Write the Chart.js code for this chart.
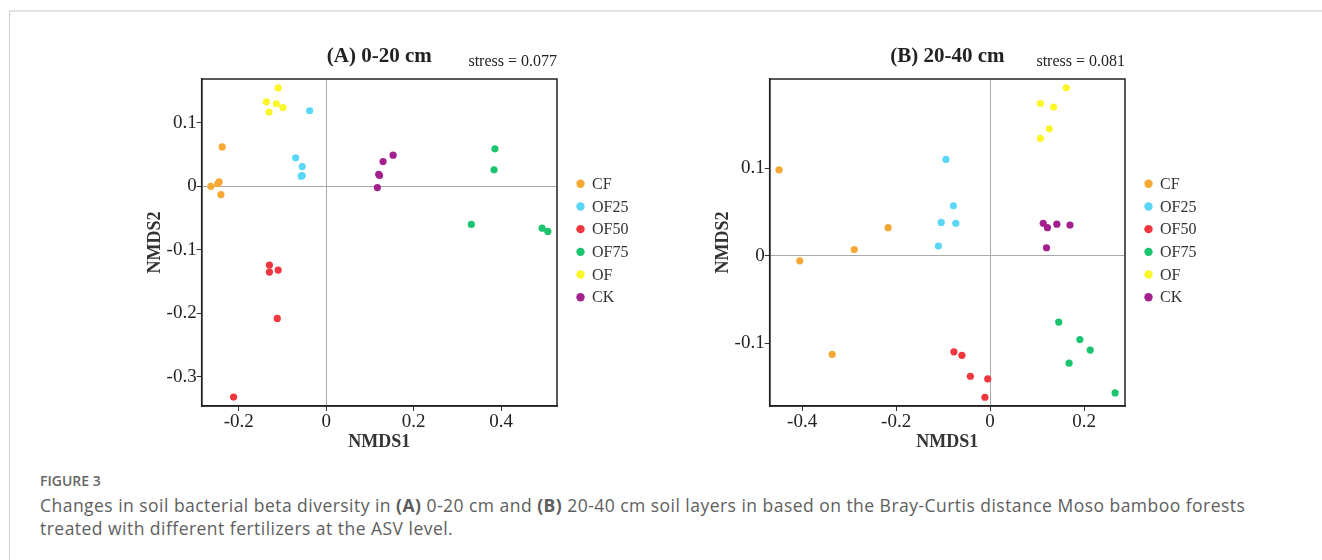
<!DOCTYPE html>
<html>
<head>
<meta charset="utf-8">
<script src="https://cdn.jsdelivr.net/npm/chart.js@4.4.0/dist/chart.umd.min.js"></script>
<style>
  body { margin: 0; background: #fff; width: 1322px; height: 560px; overflow: hidden; position: relative; }
  #frame { position: absolute; left: 9px; top: 10px; right: 0; bottom: 0; border-top: 2px solid #e3e3e3; border-left: 1px solid #cfcfcf; }
  .panel { position: absolute; top: 30px; width: 560px; height: 430px; }
  #pa { left: 125px; }
  #pb { left: 693px; }
  .fig { position: absolute; left: 40px; top: 471px; font-family: "Open Sans", sans-serif; font-size: 14px; font-weight: 600; color: #666; }
  .cap { position: absolute; left: 40px; top: 494px; font-family: "Open Sans", sans-serif; font-size: 17.5px; letter-spacing: 0.47px; line-height: 23px; color: #5e5e5e; }
</style>
</head>
<body>
<div id="frame"></div>
<div class="panel" id="pa"><canvas id="chartA"></canvas></div>
<div class="panel" id="pb"><canvas id="chartB"></canvas></div>
<div class="fig">FIGURE 3</div>
<div class="cap">Changes in soil bacterial beta diversity in <b>(A)</b> 0-20 cm and <b>(B)</b> 20-40 cm soil layers in based on the Bray-Curtis distance Moso bamboo forests<br>treated with different fertilizers at the ASV level.</div>

<script>
const SERIF = '"Liberation Serif", "Times New Roman", serif';

const groups = ['CF', 'OF25', 'OF50', 'OF75', 'OF', 'CK'];
const colors = ['#F5A834', '#5AD7F7', '#F0363F', '#1DC470', '#FBF62A', '#A3208F'];

// (A) 0-20 cm  [NMDS1, NMDS2]
const cfA   = [[-0.238, 0.062], [-0.264, 0.000], [-0.245, 0.007], [-0.248, 0.004], [-0.241, -0.013]];
const of25A = [[-0.038, 0.119], [-0.070, 0.045], [-0.055, 0.031], [-0.057, 0.016], [-0.055, 0.017]];
const of50A = [[-0.130, -0.124], [-0.130, -0.135], [-0.110, -0.132], [-0.112, -0.208], [-0.212, -0.332]];
const of75A = [[0.386, 0.059], [0.384, 0.026], [0.332, -0.060], [0.494, -0.066], [0.507, -0.071]];
const ofA   = [[-0.110, 0.155], [-0.137, 0.133], [-0.114, 0.130], [-0.099, 0.124], [-0.131, 0.117]];
const ckA   = [[0.153, 0.049], [0.130, 0.039], [0.120, 0.019], [0.122, 0.017], [0.117, -0.002]];

// (B) 20-40 cm
const cfB   = [[-0.449, 0.098], [-0.217, 0.032], [-0.289, 0.007], [-0.405, -0.006], [-0.336, -0.113]];
const of25B = [[-0.094, 0.110], [-0.078, 0.057], [-0.104, 0.038], [-0.073, 0.037], [-0.110, 0.011]];
const of50B = [[-0.077, -0.110], [-0.060, -0.114], [-0.042, -0.138], [-0.005, -0.141], [-0.011, -0.162]];
const of75B = [[0.146, -0.076], [0.191, -0.096], [0.213, -0.108], [0.168, -0.123], [0.266, -0.157]];
const ofB   = [[0.162, 0.192], [0.107, 0.174], [0.135, 0.170], [0.126, 0.145], [0.107, 0.134]];
const ckB   = [[0.113, 0.037], [0.122, 0.032], [0.142, 0.036], [0.170, 0.035], [0.120, 0.009]];

const xTicksA = [-0.2, 0, 0.2, 0.4];
const yTicksA = [0.1, 0, -0.1, -0.2, -0.3];
const xTicksB = [-0.4, -0.2, 0, 0.2];
const yTicksB = [0.1, 0, -0.1];

// draws frame, panel title, stress note and legend next to the plot area
const decorPlugin = {
  id: 'decor',
  afterDraw(chart, args, opts) {
    const { ctx, chartArea: a } = chart;
    ctx.save();
    ctx.strokeStyle = '#222';
    ctx.lineWidth = 1.5;
    ctx.strokeRect(a.left, a.top, a.right - a.left, a.bottom - a.top);

    ctx.fillStyle = '#222';
    ctx.textBaseline = 'alphabetic';
    ctx.font = 'bold 21px ' + SERIF;
    ctx.textAlign = 'center';
    ctx.fillText(opts.title, (a.left + a.right) / 2, a.top - 17);
    ctx.font = '16px ' + SERIF;
    ctx.textAlign = 'right';
    ctx.fillText(opts.stress, a.right, a.top - 13);

    const mid = (a.top + a.bottom) / 2 - 2;
    ctx.font = '16px ' + SERIF;
    ctx.textAlign = 'left';
    ctx.textBaseline = 'middle';
    chart.data.datasets.forEach((ds, i) => {
      const y = mid + (i - 2.5) * 22.7;
      ctx.fillStyle = ds.backgroundColor;
      ctx.beginPath();
      ctx.arc(a.right + 23.5, y, 4.2, 0, Math.PI * 2);
      ctx.fill();
      ctx.fillStyle = '#333';
      ctx.fillText(ds.label, a.right + 35, y + 1);
    });
    ctx.restore();
  }
};

function axis(min, max, ticks, label, titlePad) {
  return {
    type: 'linear',
    min: min,
    max: max,
    afterBuildTicks: s => { s.ticks = ticks.map(v => ({ value: v })); },
    ticks: { color: '#222', font: { family: SERIF, size: 19 }, padding: 0, callback: v => String(v) },
    grid: {
      color: c => (c.tick && c.tick.value === 0 ? '#a9a9a9' : 'rgba(0,0,0,0)'),
      lineWidth: 1,
      drawTicks: true,
      tickLength: 5,
      tickColor: '#333'
    },
    border: { display: true, color: '#222', width: 1.5 },
    title: { display: true, text: label, color: '#333', font: { family: SERIF, size: 18, weight: 'bold' }, padding: titlePad }
  };
}

function makeChart(id, sets, xr, yr, xt, yt, title, stress) {
  new Chart(document.getElementById(id), {
    type: 'scatter',
    data: {
      datasets: groups.map((g, i) => ({
        label: g,
        data: sets[i].map(p => ({ x: p[0], y: p[1] })),
        backgroundColor: colors[i],
        borderWidth: 0,
        pointRadius: 3.6,
        pointHoverRadius: 3.6
      }))
    },
    options: {
      responsive: true,
      maintainAspectRatio: false,
      animation: false,
      layout: { padding: { left: 20, right: 128, top: 49, bottom: 2.6 } },
      scales: {
        x: axis(xr[0], xr[1], xt, 'NMDS1', { top: -2, bottom: 4 }),
        y: axis(yr[0], yr[1], yt, 'NMDS2', { top: 0, bottom: 0 })
      },
      plugins: {
        legend: { display: false },
        tooltip: { enabled: false },
        decor: { title: title, stress: stress }
      }
    },
    plugins: [decorPlugin]
  });
}

makeChart('chartA', [cfA, of25A, of50A, of75A, ofA, ckA], [-0.285, 0.528], [-0.346, 0.169],
  xTicksA, yTicksA, '(A) 0-20 cm', 'stress = 0.077');
makeChart('chartB', [cfB, of25B, of50B, of75B, ofB, ckB], [-0.469, 0.287], [-0.172, 0.202],
  xTicksB, yTicksB, '(B) 20-40 cm', 'stress = 0.081');
</script>
</body>
</html>
